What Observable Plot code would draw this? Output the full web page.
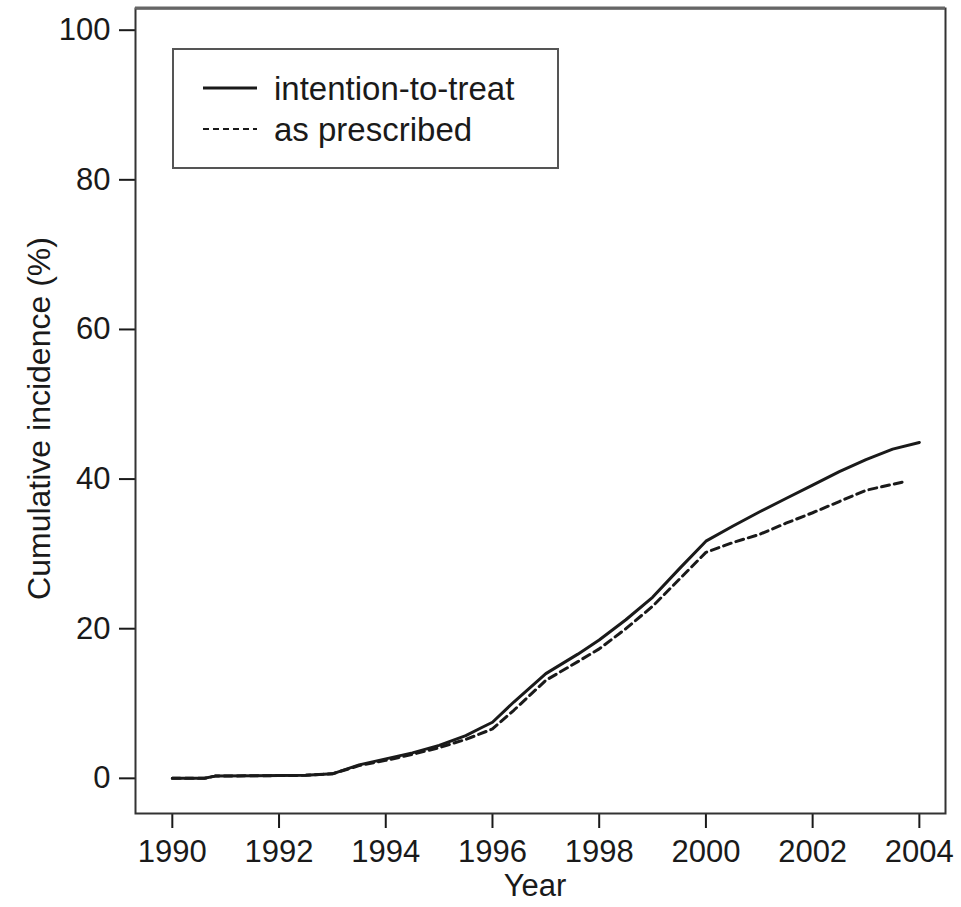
<!DOCTYPE html>
<html>
<head>
<meta charset="utf-8">
<script src="https://cdn.jsdelivr.net/npm/d3@7"></script>
<script src="https://cdn.jsdelivr.net/npm/@observablehq/plot@0.6"></script>
<style>
  html, body { margin: 0; padding: 0; background: #fff; }
  #chart { position: relative; width: 961px; height: 907px; }
</style>
</head>
<body>
<div id="chart"></div>
<script>
// Series labels
const seriesNames = ["intention-to-treat", "as prescribed"];

// Intention-to-treat (solid)
const ittYears  = [1990.0, 1990.6, 1990.8, 1992.5, 1993.0, 1993.5, 1994.0, 1994.5, 1995.0, 1995.5, 1995.8, 1996.0, 1996.4, 1997.0, 1997.6, 1998.0, 1998.5, 1999.0, 1999.5, 2000.0, 2000.5, 2001.0, 2001.5, 2002.0, 2002.5, 2003.0, 2003.5, 2004.0];
const ittValues = [0.0,    0.0,    0.3,    0.4,    0.6,    1.8,    2.6,    3.4,    4.4,    5.7,    6.8,    7.5,    10.2,   14.0,   16.6,   18.5,   21.2,   24.2,   28.0,   31.7,   33.7,   35.6,   37.4,   39.2,   41.0,   42.6,   44.0,   44.9];

// As prescribed (dashed)
const apYears  = [1990.0, 1990.6, 1990.8, 1992.5, 1993.0, 1993.5, 1994.0, 1994.5, 1995.0, 1995.5, 1996.0, 1996.4, 1997.0, 1997.6, 1998.0, 1998.5, 1999.0, 1999.5, 2000.0, 2000.5, 2001.0, 2001.5, 2002.0, 2002.5, 2003.0, 2003.5, 2003.75];
const apValues = [0.0,    0.0,    0.3,    0.4,    0.6,    1.7,    2.4,    3.2,    4.1,    5.2,    6.6,    9.1,    13.1,   15.6,   17.3,   20.0,   23.0,   26.6,   30.2,   31.5,   32.6,   34.1,   35.5,   37.0,   38.5,   39.3,   39.7];

// Tick values
const xTicks = [1990, 1992, 1994, 1996, 1998, 2000, 2002, 2004];
const yTicks = [0, 20, 40, 60, 80, 100];

const xLabel = "Year";
const yLabel = "Cumulative incidence (%)";

const itt = ittYears.map((x, i) => ({x, y: ittValues[i]}));
const ap = apYears.map((x, i) => ({x, y: apValues[i]}));

const FONT = "'Liberation Sans', Arial, Helvetica, sans-serif";
const INK = "#1a1a1a";

const plot = Plot.plot({
  width: 961,
  height: 907,
  marginLeft: 135,
  marginRight: 16,
  marginTop: 8,
  marginBottom: 94,
  style: { fontFamily: FONT, fontSize: "31px", color: INK, background: "#fff" },
  x: { domain: [1989.31, 2004.49] },
  y: { domain: [-4.7, 102.9] },
  marks: [
    Plot.axisX({ ticks: xTicks, tickFormat: "d", tickSize: 15, tickPadding: 11, label: null, fontSize: 31, stroke: INK, strokeWidth: 2 }),
    Plot.axisY({ ticks: yTicks, tickSize: 16, tickPadding: 9, label: null, fontSize: 31, stroke: INK, strokeWidth: 2 }),
    Plot.line(ap, { x: "x", y: "y", stroke: INK, strokeWidth: 3, strokeDasharray: "8,5", curve: "linear" }),
    Plot.line(itt, { x: "x", y: "y", stroke: INK, strokeWidth: 3, curve: "linear" }),
    Plot.frame({ stroke: "#333", strokeWidth: 2 })
  ]
});

document.getElementById("chart").appendChild(plot);

const svg = d3.select(plot);
const xs = plot.scale("x"), ys = plot.scale("y");
const frameLeft = xs.range[0], frameRight = xs.range[1];
const frameBottom = ys.range[0], frameTop = ys.range[1];

// Slightly heavier grey top edge, as in the reference
svg.append("line")
  .attr("x1", frameLeft).attr("x2", frameRight).attr("y1", frameTop).attr("y2", frameTop)
  .attr("stroke", "#666").attr("stroke-width", 3);

// Axis titles
svg.append("text")
  .attr("x", (frameLeft + frameRight) / 2 - 5).attr("y", frameBottom + 83)
  .attr("text-anchor", "middle").attr("font-family", FONT)
  .attr("font-size", 31).attr("fill", INK)
  .text(xLabel);
svg.append("text")
  .attr("transform", `translate(${frameLeft - 85},${(frameTop + frameBottom) / 2 + 8}) rotate(-90)`)
  .attr("text-anchor", "middle").attr("font-family", FONT)
  .attr("font-size", 32).attr("fill", INK)
  .text(yLabel);

// Legend box (layout only)
const lg = svg.append("g").attr("font-family", FONT).attr("text-anchor", "start");
lg.append("rect")
  .attr("x", 173).attr("y", 49).attr("width", 385).attr("height", 119)
  .attr("fill", "#fff").attr("stroke", "#555").attr("stroke-width", 2);
const dashes = [null, "6,4"];
const rowsY = [88, 129];
seriesNames.forEach((name, i) => {
  lg.append("line")
    .attr("x1", 203).attr("x2", 257).attr("y1", rowsY[i]).attr("y2", rowsY[i])
    .attr("stroke", INK).attr("stroke-width", i === 0 ? 3 : 2)
    .attr("stroke-dasharray", dashes[i]);
  lg.append("text")
    .attr("x", 274).attr("y", rowsY[i] + 12)
    .attr("text-anchor", "start")
    .attr("font-size", 33).attr("fill", INK)
    .text(name);
});
</script>
</body>
</html>
